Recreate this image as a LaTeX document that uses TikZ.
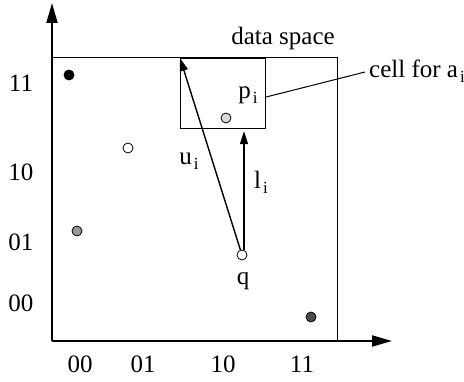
\documentclass[tikz,border=0pt]{standalone}
\usepackage{fontspec}
\setmainfont{Liberation Serif}
\usepackage{tikz}
\usetikzlibrary{positioning,arrows.meta,calc}
\newcommand{\lowi}{\kern2pt\raisebox{-0.45ex}{\fontsize{17}{17}\selectfont i}}
\tikzset{
  axis/.style={line width=2pt,-{Triangle[length=20pt,width=11pt]}},
  box/.style={draw,line width=1.2pt,inner sep=0pt},
  arr/.style={line width=1.4pt,-{Triangle[length=13pt,width=8pt]}},
  lbl/.style={font=\fontsize{25}{28}\selectfont,inner sep=1pt},
}

\begin{document}
\begin{tikzpicture}[x=1pt,y=1pt,
   pt/.style={circle,draw,line width=0.8pt,minimum size=10pt,inner sep=0pt}]
  \useasboundingbox (0,0) rectangle (464,381);
  \coordinate (o) at (52,40);
  \coordinate (ytop) at (52,378);
  \coordinate (xend) at (392,40);
  % data space and the cell
  \node[box,minimum width=285pt,minimum height=283pt,anchor=south west] (space) at (o) {};
  \node[box,minimum width=85pt,minimum height=70pt,anchor=north west] (cell) at (180,323) {};
  \draw[axis] (o) -- (ytop);
  \draw[axis] (o) -- (xend);
  \node[lbl] (title) at (283,343) {data space};
  % points
  \node[pt,fill=black] (a1) at (69,306) {};
  \node[pt,fill=white] (a2) at (128,233) {};
  \node[pt,fill=gray!80] (a3) at (77,150) {};
  \node[pt,fill=black!70] (a4) at (311,64) {};
  \node[pt,fill=gray!30] (p) at (226,263) {};
  \node[pt,fill=white] (q) at (242,126) {};
  \node[lbl] (plbl) at (248,286) {p\lowi};
  \node[lbl] (qlbl) at (243,100) {q};
  % bounds
  \draw[arr] (q) -- (cell.north west);
  \draw[arr] ([xshift=2pt]q.north) -- ([xshift=2pt,yshift=-2pt]q.north |- cell.south);
  \node[lbl] (ulbl) at (189,220) {u\lowi};
  \node[lbl] (llbl) at (261,199) {l\lowi};
  \node[lbl,anchor=west] (celllbl) at (368,310) {cell for a\lowi};
  \draw[line width=1pt] (cell.east |- 0,284) -- (365,309);
  % tick labels
  \foreach \t/\y in {11/298,10/209,01/139,00/78} { \node[lbl] (y\t) at (21,\y) {\t}; }
  \foreach \t/\x in {00/80,01/143,10/223,11/302} { \node[lbl] (x\t) at (\x,17) {\t}; }
\end{tikzpicture}
\end{document}
